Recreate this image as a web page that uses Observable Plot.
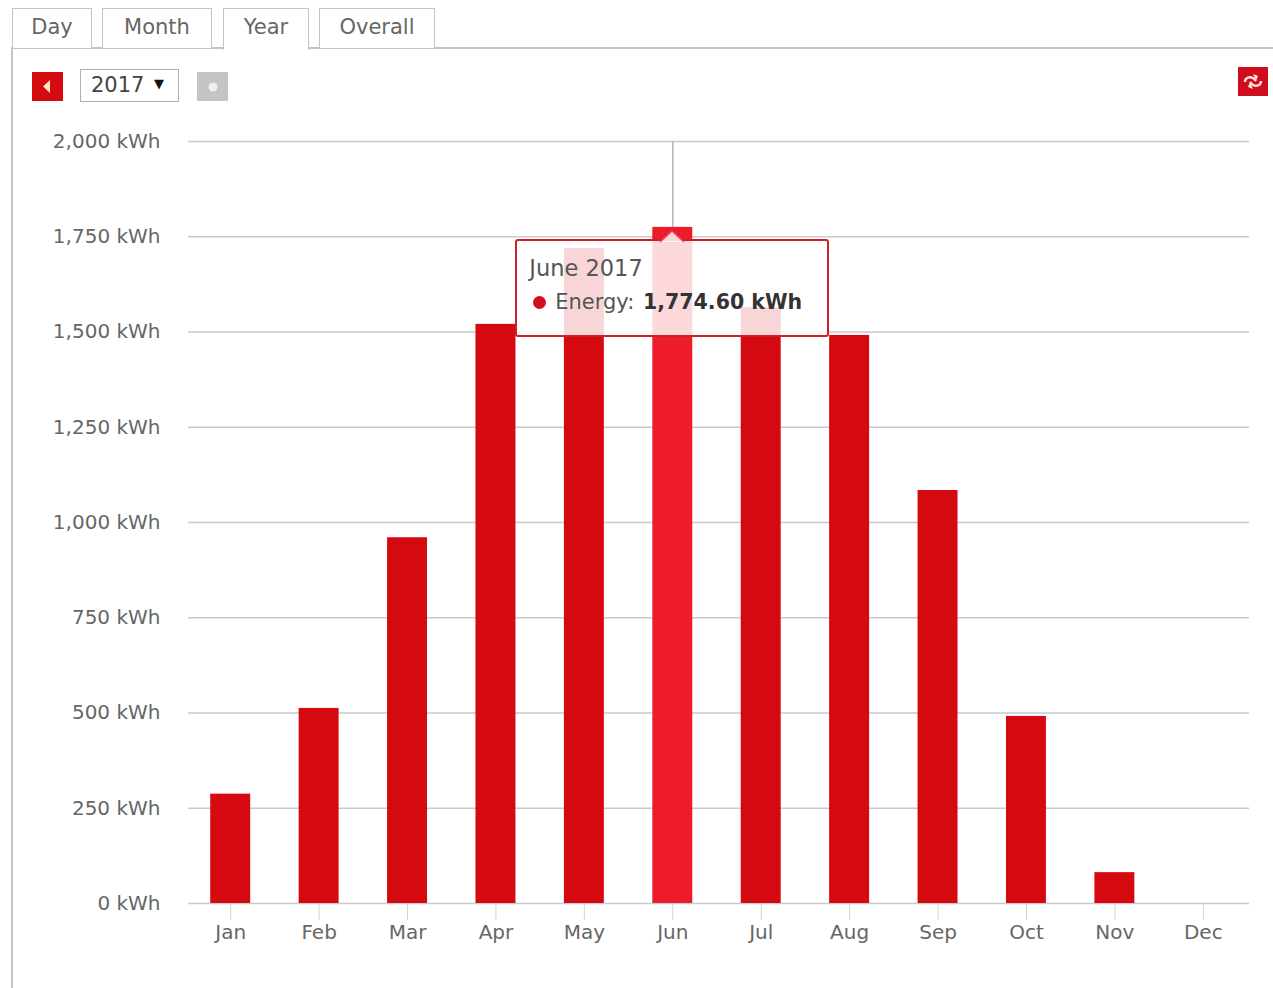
<!DOCTYPE html>
<html>
<head>
<meta charset="utf-8">
<script src="https://cdn.jsdelivr.net/npm/d3@7"></script>
<script src="https://cdn.jsdelivr.net/npm/@observablehq/plot@0.6"></script>
<style>
  html, body { margin: 0; padding: 0; background: #fff; overflow: hidden; }
  body { width: 1273px; height: 988px; position: relative; font-family: "DejaVu Sans", sans-serif; color: #666; }
  #chart { position: absolute; left: 0; top: 0; }
  .abs { position: absolute; box-sizing: border-box; }
  .tab { border: 1.5px solid #c4c4c4; border-bottom: 0; background: #fff;
         font-size: 21px; line-height: 36px; text-align: center; color: #666; }
  #tip { background: rgba(255,255,255,.83); border: 2px solid #cf1f2c; border-radius: 3px; z-index: 3; color: #444; }
</style>
</head>
<body>
<div id="chart"></div>
<script>
// Monthly energy yield for the selected year
const months = ["Jan", "Feb", "Mar", "Apr", "May", "Jun", "Jul", "Aug", "Sep", "Oct", "Nov", "Dec"];
const energy = [287, 512, 960, 1520, 1719, 1774.6, 1564, 1491, 1084, 491, 81, 0];
const yTicks = [0, 250, 500, 750, 1000, 1250, 1500, 1750, 2000];
const tabs = [["Day", 12, 80], ["Month", 102, 110], ["Year", 223, 86], ["Overall", 319, 116]];
const activeTab = "Year";
const year = "2017";
const activeMonth = "Jun";
const activeMonthName = "June";

const rows = months.map((month, i) => ({month, value: energy[i]}));
const active = rows.find(d => d.month === activeMonth);
const barColor = "#d40a10";
const hotColor = "#ee1c28";
const gridColor = "#c9c9c9";
const textColor = "#666";
const kwh = d => d3.format(",")(d) + " kWh";

const plot = Plot.plot({
  width: 1273,
  height: 988,
  marginTop: 141,
  marginBottom: 85,
  marginLeft: 188,
  marginRight: 24,
  style: {fontFamily: "'DejaVu Sans', sans-serif", background: "transparent"},
  x: {domain: months, range: [186, 1247], round: false, paddingInner: 0.548, paddingOuter: 0.274, label: null},
  y: {domain: [0, 2000], label: null},
  marks: [
    Plot.ruleY(yTicks, {stroke: gridColor, strokeWidth: 1.5}),
    Plot.axisY({ticks: yTicks, tickFormat: kwh, tickSize: 0, tickPadding: 28, fontSize: 20, fill: textColor, label: null}),
    Plot.axisX({tickSize: 17, tickPadding: 4, fontSize: 20, stroke: "#d4d4d4", fill: textColor, label: null}),
    Plot.barY(rows, {x: "month", y: "value", fill: d => d.month === activeMonth ? hotColor : barColor}),
    // crosshair rising from the hovered bar
    Plot.ruleX([activeMonth], {y1: active.value, y2: 2000, stroke: "#b5b5b5", strokeWidth: 1.5})
  ]
});
document.getElementById("chart").appendChild(plot);

function el(css, left, top, width, height, html, cls) {
  const d = document.createElement("div");
  d.className = "abs " + (cls || "");
  d.style.cssText = `left:${left}px;top:${top}px;width:${width}px;height:${height}px;${css}`;
  d.innerHTML = html || "";
  document.body.appendChild(d);
  return d;
}

// Tab strip and panel border; the selected tab opens into the panel below it
el("background:#c4c4c4", 12, 47, 1261, 1.5);
el("background:#c4c4c4", 11, 47, 2, 941);
for (const [name, left, width] of tabs) {
  el("", left, 8, width, name === activeTab ? 42 : 40, name, "tab");
}

// Year selector controls
el("background:#d40a10", 32, 72, 31, 29,
   `<svg width="31" height="29"><path d="M18 8v13l-7-6.5z" fill="#fbe6c8"/></svg>`);
el("border:1.5px solid #b0b0b0;background:#fff;color:#444;font-size:21px;line-height:30px;padding-left:10px;white-space:pre", 80, 69, 99, 33,
   `${year}<span style="position:absolute;left:73px;top:-1px;font-size:13px;color:#111">▼</span>`);
el("background:#c4c4c4", 197, 72, 31, 29,
   `<svg width="31" height="29"><circle cx="16" cy="15" r="4.5" fill="#eee"/></svg>`);

// Refresh button
el("background:#cf0d1c", 1238, 67, 30, 29,
   `<svg width="30" height="29" fill="none" stroke="#fde4dc" stroke-width="2.4">
      <path d="M7 15c0-4 4-6 8-4l3 3"/><path d="M23 14c0 4-4 6-8 4l-3-3"/>
      <path d="M15 7l5 2-2 5z" fill="#fde4dc" stroke="none"/><path d="M15 22l-5-2 2-5z" fill="#fde4dc" stroke="none"/>
    </svg>`);

// Tooltip for the hovered month, anchored through the chart's own scales
const xs = plot.scale("x");
const tipWidth = 314;
const tipLeft = xs.apply(activeMonth) + xs.bandwidth / 2 - tipWidth / 2;
const tipTop = 239;
const tipValue = d3.format(",.2f")(active.value) + " kWh";
const tip = el("", tipLeft, tipTop, tipWidth, 98,
  `<div style="position:absolute;left:12px;top:13px;font-size:22.5px;line-height:28px;white-space:nowrap;color:#555">${activeMonthName} ${year}</div>
   <div style="position:absolute;left:16px;top:55px;width:13px;height:13px;border-radius:50%;background:#cf1020"></div>
   <div style="position:absolute;left:38px;top:47px;font-size:21px;line-height:28px;white-space:nowrap;color:#555">Energy: <b style="color:#333;font-size:20.5px;margin-left:2px">${tipValue}</b></div>`);
tip.id = "tip";
el("z-index:4;pointer-events:none", tipLeft + tipWidth / 2 - 14, tipTop - 11, 28, 14,
   `<svg width="28" height="14"><path d="M2 13L14 2l12 11z" fill="#fff" fill-opacity=".83"/><path d="M2 13L14 2l12 11" fill="none" stroke="#f04050" stroke-width="1.5"/></svg>`);
</script>
</body>
</html>
